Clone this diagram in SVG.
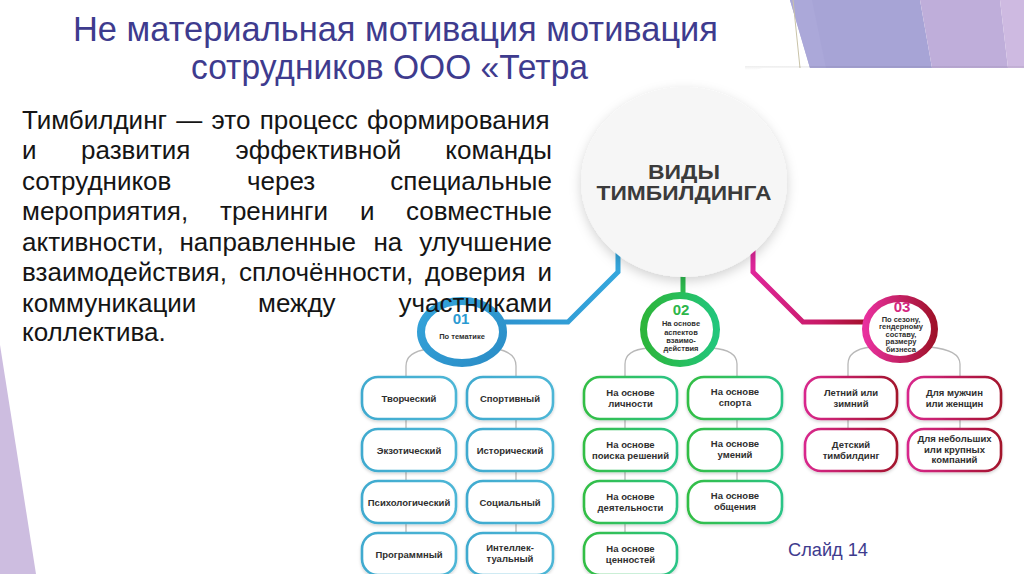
<svg xmlns="http://www.w3.org/2000/svg" width="1024" height="574" viewBox="0 0 1024 574">
<defs>
<style>
.ttl{font-family:"Liberation Sans Narrow","Liberation Sans",Arial,sans-serif;font-size:35px;fill:#3E3B8E}
.par{font-family:"Liberation Sans",Arial,sans-serif;font-size:26px;fill:#151515}
.bx{fill:#ffffff;stroke-width:2.6;filter:url(#sh)}
.bl{stroke:url(#gBlue)}
.gr{stroke:url(#gGreen)}
.rd{stroke:url(#gRed)}
.lbl{font-family:"Liberation Sans",Arial,sans-serif;font-weight:bold;font-size:9.5px;fill:#2F2F2F;text-anchor:middle}
.ctx{font-family:"Liberation Sans",Arial,sans-serif;font-weight:bold;font-size:7.5px;fill:#2F2F2F;text-anchor:middle}
.num{font-family:"Liberation Sans",Arial,sans-serif;font-weight:900;font-size:15px;text-anchor:middle}
.gl{fill:none;stroke:#B8B8B8;stroke-width:1.3}
.main{fill:none;stroke-width:5;stroke-linejoin:miter}
</style>
<linearGradient id="gBlue" x1="0" y1="0" x2="1" y2="0"><stop offset="0" stop-color="#3FAACF"/><stop offset="1" stop-color="#4DB6D6"/></linearGradient>
<linearGradient id="gGreen" x1="0" y1="0" x2="1" y2="0"><stop offset="0" stop-color="#33BE45"/><stop offset="1" stop-color="#2CC487"/></linearGradient>
<linearGradient id="gRed" x1="0" y1="0" x2="1" y2="0"><stop offset="0" stop-color="#D8288C"/><stop offset="1" stop-color="#A3122C"/></linearGradient>
<linearGradient id="lBlue" gradientUnits="userSpaceOnUse" x1="500" y1="0" x2="620" y2="0"><stop offset="0" stop-color="#2E93CF"/><stop offset="1" stop-color="#35A7DD"/></linearGradient>
<linearGradient id="lRed" gradientUnits="userSpaceOnUse" x1="750" y1="0" x2="866" y2="0"><stop offset="0" stop-color="#E0269C"/><stop offset="0.6" stop-color="#C81A66"/><stop offset="1" stop-color="#A3102A"/></linearGradient>
<linearGradient id="cBlue" x1="0" y1="0" x2="1" y2="1"><stop offset="0" stop-color="#35A5DB"/><stop offset="1" stop-color="#2A8CC6"/></linearGradient>
<linearGradient id="cGreen" x1="0" y1="0" x2="1" y2="0"><stop offset="0" stop-color="#2DB53A"/><stop offset="1" stop-color="#22C67C"/></linearGradient>
<linearGradient id="cRed" x1="0" y1="0" x2="1" y2="0"><stop offset="0" stop-color="#E8309E"/><stop offset="1" stop-color="#A0122A"/></linearGradient>
<linearGradient id="pTop" x1="0" y1="0" x2="0" y2="1"><stop offset="0" stop-color="#000" stop-opacity="0.07"/><stop offset="1" stop-color="#000" stop-opacity="0"/></linearGradient>
<filter id="sh" x="-20%" y="-20%" width="140%" height="150%"><feDropShadow dx="0" dy="1.5" stdDeviation="1.5" flood-color="#000" flood-opacity="0.18"/></filter>
<filter id="shc" x="-30%" y="-30%" width="160%" height="160%"><feDropShadow dx="0" dy="4" stdDeviation="6" flood-color="#000" flood-opacity="0.18"/></filter>
</defs>

<rect x="0" y="0" width="1024" height="574" fill="#ffffff"/>

<g id="decor">
<polygon points="790,0 920,0 932,68 810,68" fill="#A7A4D6"/>
<polygon points="790,0 812,0 826,68 810,68" fill="#ABA8D9"/>
<polygon points="920,0 1000,0 1008,68 932,68" fill="#BFAEDA"/>
<polygon points="1000,0 1024,0 1024,68 1008,68" fill="#CEBAE1"/>
<line x1="793" y1="0" x2="800" y2="68" stroke="#C9C3A8" stroke-width="1"/>
<rect x="745" y="66" width="295" height="4" fill="url(#pTop)"/>
<rect x="745" y="68" width="295" height="530" rx="20" fill="#ffffff"/>
<polygon points="0,345 0,574 36,574" fill="#CDBDE0"/>
</g>

<g id="title">
<text class="ttl" x="73" y="41" textLength="645" lengthAdjust="spacingAndGlyphs">Не материальная мотивация мотивация</text>
<text class="ttl" x="191" y="79" textLength="397" lengthAdjust="spacingAndGlyphs">сотрудников ООО «Тетра</text>
</g>

<g id="connectors">
<path class="main" d="M618,250 V272 L568,322 H500" stroke="url(#lBlue)"/>
<path class="main" d="M683,268 V296" stroke="#2DBB4F"/>
<path class="main" d="M753,250 V272 L803,322 H866" stroke="url(#lRed)"/>
<path class="gl" d="M406,377 V366 Q406,352 428,349"/>
<path class="gl" d="M516,377 V366 Q516,352 496,349"/>
<path class="gl" d="M406,419 V429 M406,471 V481 M406,523 V533"/>
<path class="gl" d="M516,419 V429 M516,471 V481 M516,523 V533"/>
<path class="gl" d="M625,377 V364 Q625,350 648,348"/>
<path class="gl" d="M737,377 V364 Q737,350 712,348"/>
<path class="gl" d="M625,419 V429 M625,471 V481 M625,523 V533"/>
<path class="gl" d="M737,419 V429 M737,471 V481"/>
<path class="gl" d="M848,377 V364 Q848,350 870,347"/>
<path class="gl" d="M960,377 V364 Q960,350 930,347"/>
<path class="gl" d="M848,419 V429"/>
<path class="gl" d="M960,419 V429"/>
</g>

<g id="node-center">
<ellipse cx="684" cy="182" rx="103" ry="95" fill="#F6F6F6" filter="url(#shc)"/>
<text x="684" y="179" font-family="Liberation Sans,Arial,sans-serif" font-weight="bold" font-size="20" fill="#3B3B3B" text-anchor="middle" textLength="72" lengthAdjust="spacingAndGlyphs">ВИДЫ</text>
<text x="684" y="200" font-family="Liberation Sans,Arial,sans-serif" font-weight="bold" font-size="20" fill="#3B3B3B" text-anchor="middle" textLength="175" lengthAdjust="spacingAndGlyphs">ТИМБИЛДИНГА</text>
</g>

<g id="node-01">
<ellipse cx="462" cy="332" rx="41" ry="31" fill="#ffffff" stroke="url(#cBlue)" stroke-width="8"/>
<text class="num" x="461" y="324" fill="#2A9AD2">01</text>
<text class="ctx" x="462" y="339">По тематике</text>
</g>

<g id="node-02">
<ellipse cx="680" cy="329.5" rx="36.5" ry="34" fill="#ffffff" stroke="url(#cGreen)" stroke-width="7"/>
<text class="num" x="681" y="315" fill="#2CB64A">02</text>
<text class="ctx" x="681" y="326">На основе</text>
<text class="ctx" x="681" y="335">аспектов</text>
<text class="ctx" x="681" y="343">взаимо-</text>
<text class="ctx" x="681" y="351">действия</text>
</g>

<g id="node-03">
<ellipse cx="900" cy="329" rx="34.5" ry="30.5" fill="#ffffff" stroke="url(#cRed)" stroke-width="7"/>
<text class="num" x="902" y="312" fill="#D3267F">03</text>
<text class="ctx" x="901" y="321.5" font-size="7">По сезону,</text>
<text class="ctx" x="901" y="329" font-size="7">гендерному</text>
<text class="ctx" x="901" y="336.5" font-size="7">составу,</text>
<text class="ctx" x="901" y="344" font-size="7">размеру</text>
<text class="ctx" x="901" y="351.5" font-size="7">бизнеса</text>
</g>

<g id="col1">
<g id="b-tvorch"><rect class="bx bl" x="362" y="377" width="94" height="42" rx="16"/><text class="lbl" x="409" y="401.5">Творческий</text></g>
<g id="b-sport"><rect class="bx bl" x="467" y="377" width="86" height="42" rx="16"/><text class="lbl" x="510" y="401.5">Спортивный</text></g>
<g id="b-ekzot"><rect class="bx bl" x="362" y="429" width="94" height="42" rx="16"/><text class="lbl" x="409" y="453.5">Экзотический</text></g>
<g id="b-istor"><rect class="bx bl" x="467" y="429" width="86" height="42" rx="16"/><text class="lbl" x="510" y="453.5">Исторический</text></g>
<g id="b-psih"><rect class="bx bl" x="362" y="481" width="94" height="42" rx="16"/><text class="lbl" x="409" y="505.5">Психологический</text></g>
<g id="b-soc"><rect class="bx bl" x="467" y="481" width="86" height="42" rx="16"/><text class="lbl" x="510" y="505.5">Социальный</text></g>
<g id="b-prog"><rect class="bx bl" x="362" y="533" width="94" height="42" rx="16"/><text class="lbl" x="409" y="557.5">Программный</text></g>
<g id="b-intel"><rect class="bx bl" x="467" y="533" width="86" height="42" rx="16"/><text class="lbl" x="510" y="551">Интеллек-</text><text class="lbl" x="510" y="562">туальный</text></g>
</g>

<g id="col2">
<g id="b-lich"><rect class="bx gr" x="584" y="377" width="93" height="42" rx="16"/><text class="lbl" x="630.5" y="396">На основе</text><text class="lbl" x="630.5" y="407">личности</text></g>
<g id="b-sporta"><rect class="bx gr" x="688" y="377" width="94" height="42" rx="16"/><text class="lbl" x="735" y="395">На основе</text><text class="lbl" x="735" y="406">спорта</text></g>
<g id="b-poisk"><rect class="bx gr" x="584" y="429" width="93" height="42" rx="16"/><text class="lbl" x="630.5" y="448">На основе</text><text class="lbl" x="630.5" y="459">поиска решений</text></g>
<g id="b-umen"><rect class="bx gr" x="688" y="429" width="94" height="42" rx="16"/><text class="lbl" x="735" y="447">На основе</text><text class="lbl" x="735" y="458">умений</text></g>
<g id="b-deyat"><rect class="bx gr" x="584" y="481" width="93" height="42" rx="16"/><text class="lbl" x="630.5" y="500">На основе</text><text class="lbl" x="630.5" y="511">деятельности</text></g>
<g id="b-obsh"><rect class="bx gr" x="688" y="481" width="94" height="42" rx="16"/><text class="lbl" x="735" y="499">На основе</text><text class="lbl" x="735" y="510">общения</text></g>
<g id="b-cenn"><rect class="bx gr" x="584" y="533" width="93" height="42" rx="16"/><text class="lbl" x="630.5" y="552">На основе</text><text class="lbl" x="630.5" y="563">ценностей</text></g>
</g>

<g id="col3">
<g id="b-leto"><rect class="bx rd" x="805" y="377" width="92" height="42" rx="16"/><text class="lbl" x="851" y="396">Летний или</text><text class="lbl" x="851" y="407">зимний</text></g>
<g id="b-muzh"><rect class="bx rd" x="908" y="377" width="93" height="42" rx="16"/><text class="lbl" x="954.5" y="396">Для мужчин</text><text class="lbl" x="954.5" y="407">или женщин</text></g>
<g id="b-det"><rect class="bx rd" x="805" y="429" width="92" height="42" rx="16"/><text class="lbl" x="851" y="448">Детский</text><text class="lbl" x="851" y="459">тимбилдинг</text></g>
<g id="b-komp"><rect class="bx rd" x="908" y="429" width="93" height="42" rx="16"/><text class="lbl" x="954.5" y="442">Для небольших</text><text class="lbl" x="954.5" y="452.5">или крупных</text><text class="lbl" x="954.5" y="463">компаний</text></g>
</g>

<g id="paragraph" class="par">
<text x="22" y="129" word-spacing="2.1">Тимбилдинг — это процесс формирования</text>
<text y="159"><tspan x="22">и</tspan><tspan x="81">развития</tspan><tspan x="235.5">эффективной</tspan><tspan x="552" text-anchor="end">команды</tspan></text>
<text y="190"><tspan x="22">сотрудников</tspan><tspan x="247">через</tspan><tspan x="552" text-anchor="end">специальные</tspan></text>
<text y="220"><tspan x="22">мероприятия,</tspan><tspan x="220">тренинги</tspan><tspan x="360">и</tspan><tspan x="552" text-anchor="end">совместные</tspan></text>
<text y="251"><tspan x="22">активности,</tspan><tspan x="179.5">направленные</tspan><tspan x="373.5">на</tspan><tspan x="552" text-anchor="end">улучшение</tspan></text>
<text y="281"><tspan x="22">взаимодействия,</tspan><tspan x="239">сплочённости,</tspan><tspan x="425">доверия</tspan><tspan x="552" text-anchor="end">и</tspan></text>
<text y="312"><tspan x="22">коммуникации</tspan><tspan x="258">между</tspan><tspan x="552" text-anchor="end">участниками</tspan></text>
<text x="22" y="341">коллектива.</text>
</g>

<text id="slide-num" x="788" y="556" font-family="Liberation Sans,Arial,sans-serif" font-size="18" fill="#3E3B8E" textLength="80" lengthAdjust="spacingAndGlyphs">Слайд 14</text>
</svg>
